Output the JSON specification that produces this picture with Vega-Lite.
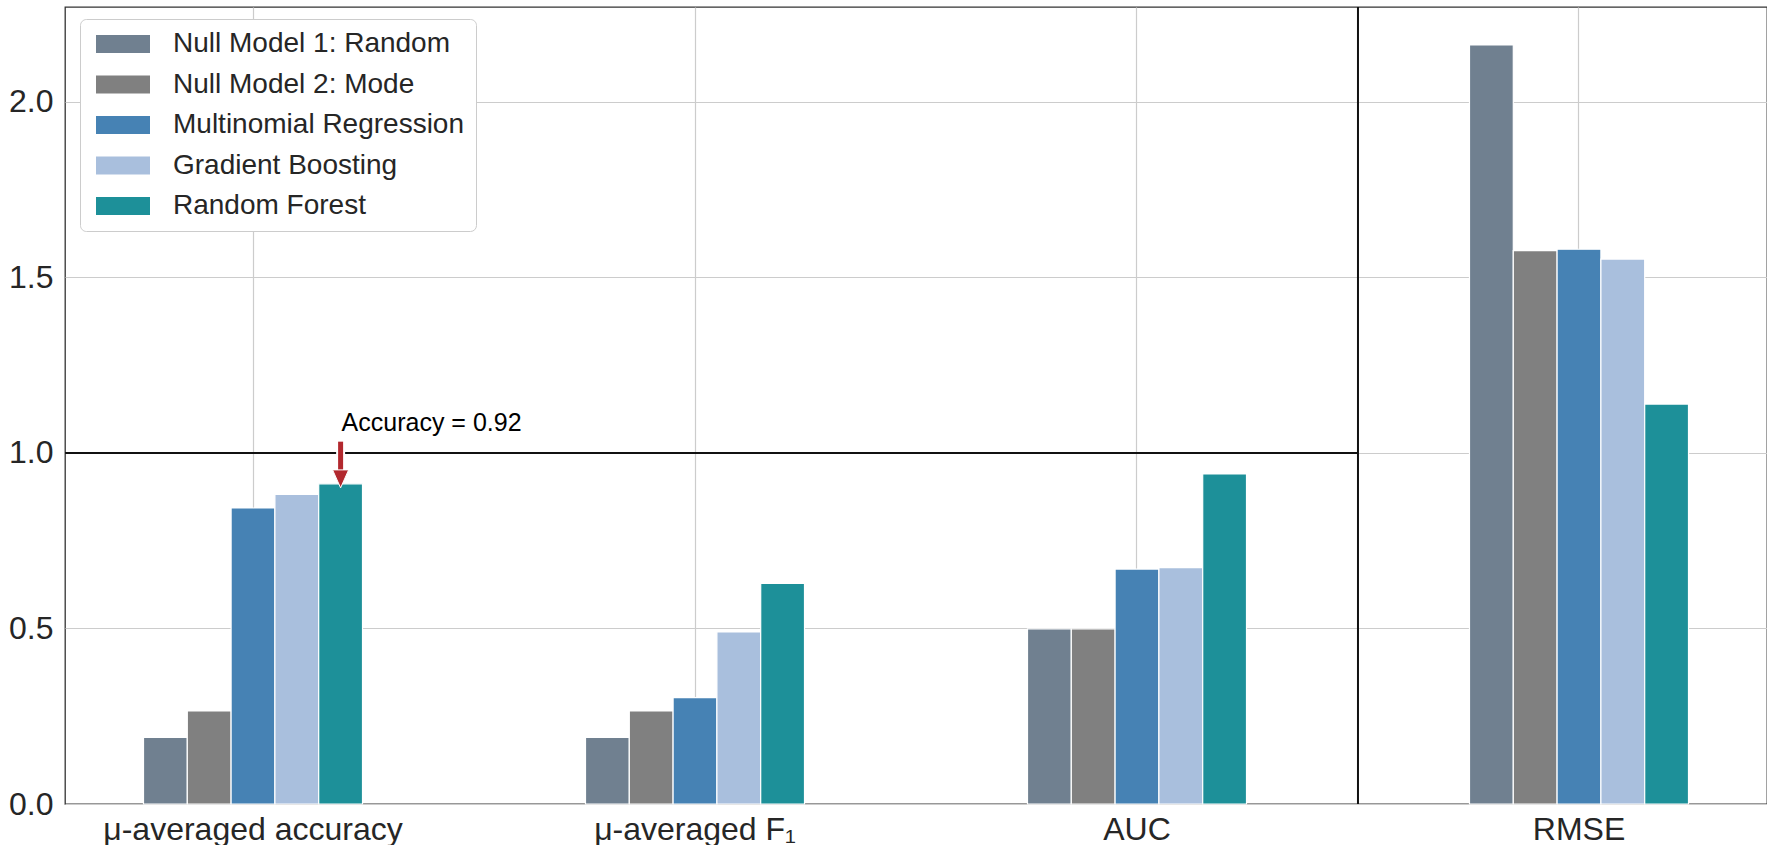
{
  "$schema": "https://vega.github.io/schema/vega-lite/v6.json",
  "width": 1702,
  "height": 797,
  "padding": {"left": 0, "top": 6, "right": 0, "bottom": 0},
  "background": "white",
  "config": {
    "font": "Liberation Sans",
    "view": {"stroke": "#333333", "strokeWidth": 1.3},
    "axis": {"labelFont": "Liberation Sans", "labelColor": "#262626", "gridColor": "#cccccc", "gridWidth": 1.2, "gridOpacity": 1, "labelLimit": 0}
  },
  "data": {
    "values": [
      {"metric": "μ-averaged accuracy", "model": "Null Model 1: Random", "value": 0.19},
      {"metric": "μ-averaged accuracy", "model": "Null Model 2: Mode", "value": 0.265},
      {"metric": "μ-averaged accuracy", "model": "Multinomial Regression", "value": 0.843},
      {"metric": "μ-averaged accuracy", "model": "Gradient Boosting", "value": 0.882},
      {"metric": "μ-averaged accuracy", "model": "Random Forest", "value": 0.912},
      {"metric": "μ-averaged F₁", "model": "Null Model 1: Random", "value": 0.19},
      {"metric": "μ-averaged F₁", "model": "Null Model 2: Mode", "value": 0.265},
      {"metric": "μ-averaged F₁", "model": "Multinomial Regression", "value": 0.303},
      {"metric": "μ-averaged F₁", "model": "Gradient Boosting", "value": 0.49},
      {"metric": "μ-averaged F₁", "model": "Random Forest", "value": 0.628},
      {"metric": "AUC", "model": "Null Model 1: Random", "value": 0.499},
      {"metric": "AUC", "model": "Null Model 2: Mode", "value": 0.499},
      {"metric": "AUC", "model": "Multinomial Regression", "value": 0.669},
      {"metric": "AUC", "model": "Gradient Boosting", "value": 0.673},
      {"metric": "AUC", "model": "Random Forest", "value": 0.94},
      {"metric": "RMSE", "model": "Null Model 1: Random", "value": 2.162},
      {"metric": "RMSE", "model": "Null Model 2: Mode", "value": 1.576},
      {"metric": "RMSE", "model": "Multinomial Regression", "value": 1.58},
      {"metric": "RMSE", "model": "Gradient Boosting", "value": 1.552},
      {"metric": "RMSE", "model": "Random Forest", "value": 1.139}
    ]
  },
  "encoding": {
    "x": {
      "field": "metric", "type": "nominal", "sort": null,
      "scale": {"paddingInner": 0.5045, "paddingOuter": 0.1776},
      "axis": {"title": null, "labelAngle": 0, "labelFontSize": 32, "labelPadding": 10, "labelLimit": 0, "ticks": false, "domain": false, "grid": true, "bandPosition": 0.5}
    },
    "y": {
      "field": "value", "type": "quantitative",
      "scale": {"domain": [0, 2.27], "nice": false, "zero": true},
      "axis": {"title": null, "values": [0, 0.5, 1, 1.5, 2], "format": ".1f", "labelFontSize": 32, "labelPadding": 12, "ticks": false, "domain": false, "grid": true, "minExtent": 65, "maxExtent": 65}
    }
  },
  "layer": [
    {
      "mark": {"type": "bar", "stroke": "white", "strokeWidth": 1.2},
      "encoding": {
        "xOffset": {"field": "model", "type": "nominal", "sort": ["Null Model 1: Random", "Null Model 2: Mode", "Multinomial Regression", "Gradient Boosting", "Random Forest"], "scale": {"paddingInner": 0, "paddingOuter": 0}},
        "color": {
          "field": "model", "type": "nominal",
          "sort": ["Null Model 1: Random", "Null Model 2: Mode", "Multinomial Regression", "Gradient Boosting", "Random Forest"],
          "scale": {
            "domain": ["Null Model 1: Random", "Null Model 2: Mode", "Multinomial Regression", "Gradient Boosting", "Random Forest"],
            "range": ["#708090", "#808080", "#4682B4", "#A9BFDD", "#1D9099"]
          },
          "legend": {
            "title": null, "orient": "none", "legendX": 15, "legendY": 12,
            "fillColor": "white", "strokeColor": "#cccccc", "cornerRadius": 6, "padding": 11,
            "labelFont": "Liberation Sans", "labelFontSize": 28, "labelColor": "#262626", "labelLimit": 0,
            "symbolType": "M-3,-1H3V1H-3Z", "symbolSize": 324, "symbolOffset": 18, "labelOffset": 36,
            "symbolStrokeWidth": 0, "symbolOpacity": 1, "rowPadding": 12.5
          }
        }
      }
    },
    {
      "transform": [{"filter": "datum.metric === 'μ-averaged accuracy' && datum.model === 'Random Forest'"}],
      "mark": {"type": "rule", "color": "#111111", "strokeWidth": 2},
      "encoding": {
        "x": {"datum": "AUC", "bandPosition": 1.509},
        "y": {"datum": 0},
        "y2": {"datum": 2.27}
      }
    },
    {
      "transform": [{"filter": "datum.metric === 'μ-averaged accuracy' && datum.model === 'Random Forest'"}],
      "mark": {"type": "rule", "color": "#111111", "strokeWidth": 2},
      "encoding": {
        "x": {"datum": "μ-averaged accuracy", "bandPosition": -0.358},
        "x2": {"datum": "AUC", "bandPosition": 1.509},
        "y": {"datum": 1}
      }
    },
    {
      "transform": [{"filter": "datum.metric === 'μ-averaged accuracy' && datum.model === 'Random Forest'"}],
      "mark": {"type": "rule", "color": "white", "strokeWidth": 9},
      "encoding": {
        "x": {"datum": "μ-averaged accuracy"},
        "xOffset": {"datum": "Random Forest"},
        "y": {"datum": 1.032},
        "y2": {"datum": 0.95}
      }
    },
    {
      "transform": [{"filter": "datum.metric === 'μ-averaged accuracy' && datum.model === 'Random Forest'"}],
      "mark": {"type": "rule", "color": "#B2282E", "strokeWidth": 5},
      "encoding": {
        "x": {"datum": "μ-averaged accuracy"},
        "xOffset": {"datum": "Random Forest"},
        "y": {"datum": 1.032},
        "y2": {"datum": 0.945}
      }
    },
    {
      "transform": [{"filter": "datum.metric === 'μ-averaged accuracy' && datum.model === 'Random Forest'"}],
      "mark": {"type": "point", "shape": "M-0.89,-1L0.89,-1L0,1Z", "size": 324, "filled": true, "fill": "#B2282E", "opacity": 1, "stroke": "white", "strokeWidth": 1},
      "encoding": {
        "x": {"datum": "μ-averaged accuracy"},
        "xOffset": {"datum": "Random Forest"},
        "y": {"datum": 0.926}
      }
    },
    {
      "transform": [{"filter": "datum.metric === 'μ-averaged accuracy' && datum.model === 'Random Forest'"}],
      "mark": {"type": "text", "text": "Accuracy = 0.92", "align": "left", "baseline": "middle", "dx": 1, "font": "Liberation Sans", "fontSize": 25, "fontWeight": "normal", "fill": "#000000", "strokeWidth": 0},
      "encoding": {
        "x": {"datum": "μ-averaged accuracy"},
        "xOffset": {"datum": "Random Forest"},
        "y": {"datum": 1.086}
      }
    }
  ]
}
